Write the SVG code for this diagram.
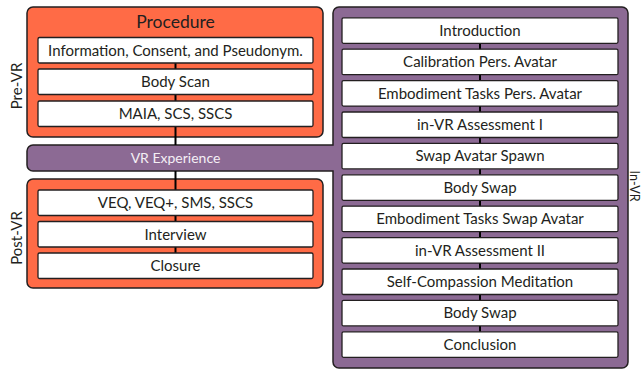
<svg xmlns="http://www.w3.org/2000/svg" width="642" height="370" viewBox="0 0 642 370">
<style>
.orange{fill:#ff6b46;stroke:#231f20;stroke-width:1.5}
.purple{fill:#8c6a94;stroke:#231f20;stroke-width:1.5}
.box{fill:#ffffff;stroke:#231f20;stroke-width:1.3}
.t{font-family:Lato,"Liberation Sans",sans-serif;font-size:15px;fill:#231f20;text-anchor:middle}
.title{font-size:17.5px}
.vr{fill:#f4eff5;font-size:14px}
.side{font-family:Lato,"Liberation Sans",sans-serif;font-size:15px;fill:#231f20;text-anchor:middle}
.conn{stroke:#000;stroke-width:2;fill:none}
</style>
<rect width="642" height="370" fill="#ffffff"/>
<g id="pre-vr">
<rect class="orange" x="27" y="7" width="296" height="130" rx="6"/>
<text class="t title" x="175.5" y="28">Procedure</text>
<text class="side" transform="translate(22,86) rotate(-90)">Pre-VR</text>
</g>
<g id="post-vr">
<rect class="orange" x="27" y="179" width="296" height="109" rx="6"/>
<text class="side" transform="translate(22,238) rotate(-90)">Post-VR</text>
</g>
<g id="in-vr">
<path class="purple" d="M339,7 H622 A6,6 0 0 1 628,13 V362 A6,6 0 0 1 622,368 H339 A6,6 0 0 1 333,362 V171 H33 A6,6 0 0 1 27,165 V151 A6,6 0 0 1 33,145 H333 V13 A6,6 0 0 1 339,7 Z"/>
<text class="t vr" x="175.5" y="163">VR Experience</text>
<text class="side" style="font-size:12.5px" transform="translate(629.5,186) rotate(90)">In-VR</text>
</g>
<g id="connectors">
<line class="conn" x1="175.5" y1="63" x2="175.5" y2="145"/>
<line class="conn" x1="175.5" y1="171" x2="175.5" y2="253"/>
<line class="conn" x1="480" y1="43" x2="480" y2="332"/>
</g>
<g id="info"><rect class="box" x="38" y="37.5" width="275" height="25.5" rx="1.5"/><text class="t" x="175.5" y="55.5">Information, Consent, and Pseudonym.</text></g>
<g id="bodyscan"><rect class="box" x="38" y="69" width="275" height="25.5" rx="1.5"/><text class="t" x="175.5" y="87">Body Scan</text></g>
<g id="maia"><rect class="box" x="38" y="101" width="275" height="25.5" rx="1.5"/><text class="t" x="175.5" y="119">MAIA, SCS, SSCS</text></g>
<g id="veq"><rect class="box" x="38" y="190" width="275" height="25.5" rx="1.5"/><text class="t" x="175.5" y="208">VEQ, VEQ+, SMS, SSCS</text></g>
<g id="interview"><rect class="box" x="38" y="221.5" width="275" height="25.5" rx="1.5"/><text class="t" x="175.5" y="239.5">Interview</text></g>
<g id="closure"><rect class="box" x="38" y="253" width="275" height="25.5" rx="1.5"/><text class="t" x="175.5" y="271">Closure</text></g>
<g id="introduction"><rect class="box" x="342" y="17.8" width="276" height="25.5" rx="1.5"/><text class="t" x="480" y="35.8">Introduction</text></g>
<g id="calibration"><rect class="box" x="342" y="49.2" width="276" height="25.5" rx="1.5"/><text class="t" x="480" y="67.2">Calibration Pers. Avatar</text></g>
<g id="embodiment1"><rect class="box" x="342" y="80.6" width="276" height="25.5" rx="1.5"/><text class="t" x="480" y="98.6">Embodiment Tasks Pers. Avatar</text></g>
<g id="assessment1"><rect class="box" x="342" y="112" width="276" height="25.5" rx="1.5"/><text class="t" x="480" y="130">in-VR Assessment I</text></g>
<g id="spawn"><rect class="box" x="342" y="143.4" width="276" height="25.5" rx="1.5"/><text class="t" x="480" y="161.4">Swap Avatar Spawn</text></g>
<g id="bodyswap1"><rect class="box" x="342" y="174.8" width="276" height="25.5" rx="1.5"/><text class="t" x="480" y="192.8">Body Swap</text></g>
<g id="embodiment2"><rect class="box" x="342" y="206.2" width="276" height="25.5" rx="1.5"/><text class="t" x="480" y="224.2">Embodiment Tasks Swap Avatar</text></g>
<g id="assessment2"><rect class="box" x="342" y="237.6" width="276" height="25.5" rx="1.5"/><text class="t" x="480" y="255.6">in-VR Assessment II</text></g>
<g id="meditation"><rect class="box" x="342" y="269" width="276" height="25.5" rx="1.5"/><text class="t" x="480" y="287">Self-Compassion Meditation</text></g>
<g id="bodyswap2"><rect class="box" x="342" y="300.4" width="276" height="25.5" rx="1.5"/><text class="t" x="480" y="318.4">Body Swap</text></g>
<g id="conclusion"><rect class="box" x="342" y="331.8" width="276" height="25.5" rx="1.5"/><text class="t" x="480" y="349.8">Conclusion</text></g>
</svg>
